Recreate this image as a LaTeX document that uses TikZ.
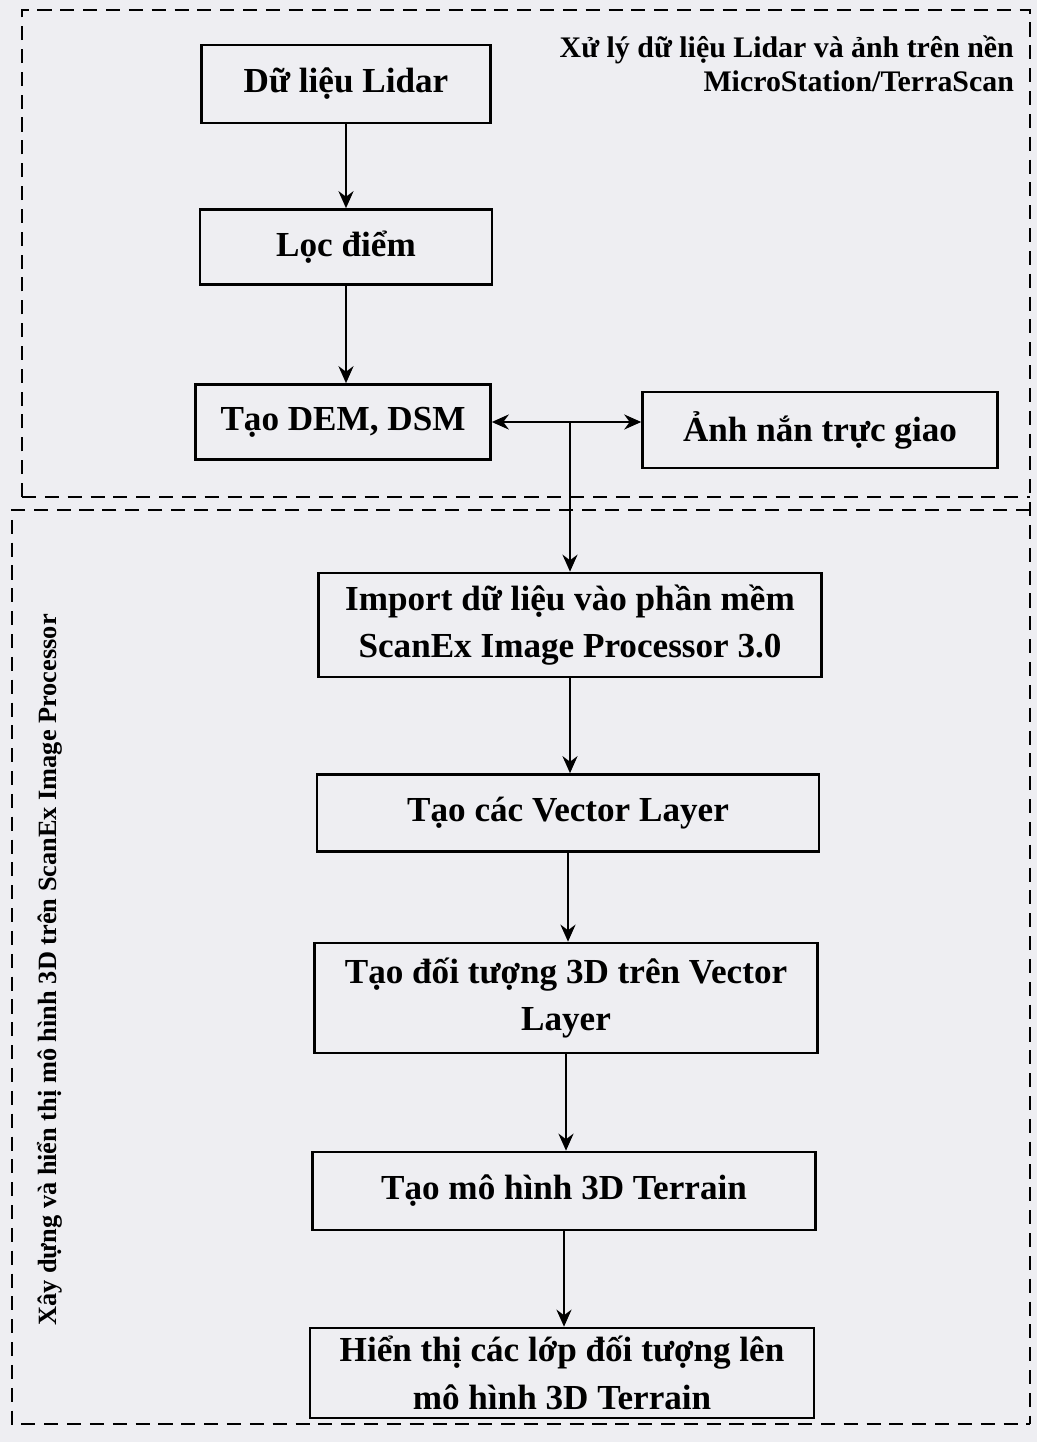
\documentclass[tikz,border=0pt]{standalone}
\usepackage{fontspec}
\setmainfont{Liberation Serif}
\usetikzlibrary{arrows.meta}
\definecolor{paper}{RGB}{238,238,242}

\begin{document}
\begin{tikzpicture}[x=0.02cm,y=-0.02cm,
    box/.style={draw,line width=1.5pt,align=center,inner sep=2pt,
      font=\fontsize{20}{27}\selectfont\bfseries},
    arr/.style={line width=1.5pt,-{Stealth[length=0.34cm,width=0.3cm]}},
    region/.style={line width=1.5pt,dash pattern=on 8pt off 5pt}]
    \fill[paper] (0,0) rectangle (1037,1442);
    \useasboundingbox (0,0) rectangle (1037,1442);

    \coordinate (tl) at (22,10);
    \coordinate (tr) at (1030,10);
    \coordinate (ml) at (22,497);
    \coordinate (mr) at (1030,497);
    \coordinate (nl) at (12,510);
    \coordinate (nr) at (1030,510);
    \coordinate (bl) at (12,1424);
    \coordinate (br) at (1030,1424);

    \draw[region] (ml)--(tl)--(tr)--(br);
    \draw[region] (ml)--(mr);
    \draw[region] (nr)--(nl)--(bl)--(br);

    \node[anchor=north east,align=right,font=\fontsize{17}{19}\selectfont\bfseries] (title1) at (1020,30)
        {Xử lý dữ liệu Lidar và ảnh trên nền\\MicroStation/TerraScan};
    \node[rotate=90,font=\fontsize{15}{18}\selectfont\bfseries] (title2) at (50,970)
        {Xây dựng và hiển thị mô hình 3D trên ScanEx Image Processor};

    \node[box,minimum width=5.78cm,minimum height=1.56cm] (lidar) at (346,84) {Dữ liệu Lidar};
    \node[box,minimum width=5.84cm,minimum height=1.5cm] (loc) at (346,247) {Lọc điểm};
    \node[box,minimum width=5.9cm,minimum height=1.5cm] (dem) at (343,422) {Tạo DEM, DSM};
    \node[box,minimum width=7.1cm,minimum height=1.52cm] (anh) at (820,430) {Ảnh nắn trực giao};

    \node[box,minimum width=10.06cm,minimum height=2.08cm] (import) at (570,625)
        {Import dữ liệu vào phần mềm\\ScanEx Image Processor 3.0};
    \node[box,minimum width=10.04cm,minimum height=1.54cm] (vector) at (568,813) {Tạo các Vector Layer};
    \node[box,minimum width=10.06cm,minimum height=2.2cm] (doituong) at (566,998)
        {Tạo đối tượng 3D trên Vector\\Layer};
    \node[box,minimum width=10.06cm,minimum height=1.56cm] (terrain) at (564,1191) {Tạo mô hình 3D Terrain};
    \node[box,minimum width=10.08cm,minimum height=1.8cm] (hienthi) at (562,1373)
        {Hiển thị các lớp đối tượng lên\\mô hình 3D Terrain};

    \coordinate (j) at (dem.east -| import.north);

    \draw[arr] (lidar.south)--(lidar.south |- loc.north);
    \draw[arr] (loc.south)--(loc.south |- dem.north);
    \draw[arr,{Stealth[length=0.34cm,width=0.3cm]}-{Stealth[length=0.34cm,width=0.3cm]}] (dem.east)--(dem.east -| anh.west);
    \draw[arr] (j)--(import.north);
    \draw[arr] (import.south)--(import.south |- vector.north);
    \draw[arr] (vector.south)--(vector.south |- doituong.north);
    \draw[arr] (doituong.south)--(doituong.south |- terrain.north);
    \draw[arr] (terrain.south)--(terrain.south |- hienthi.north);
\end{tikzpicture}
\end{document}
